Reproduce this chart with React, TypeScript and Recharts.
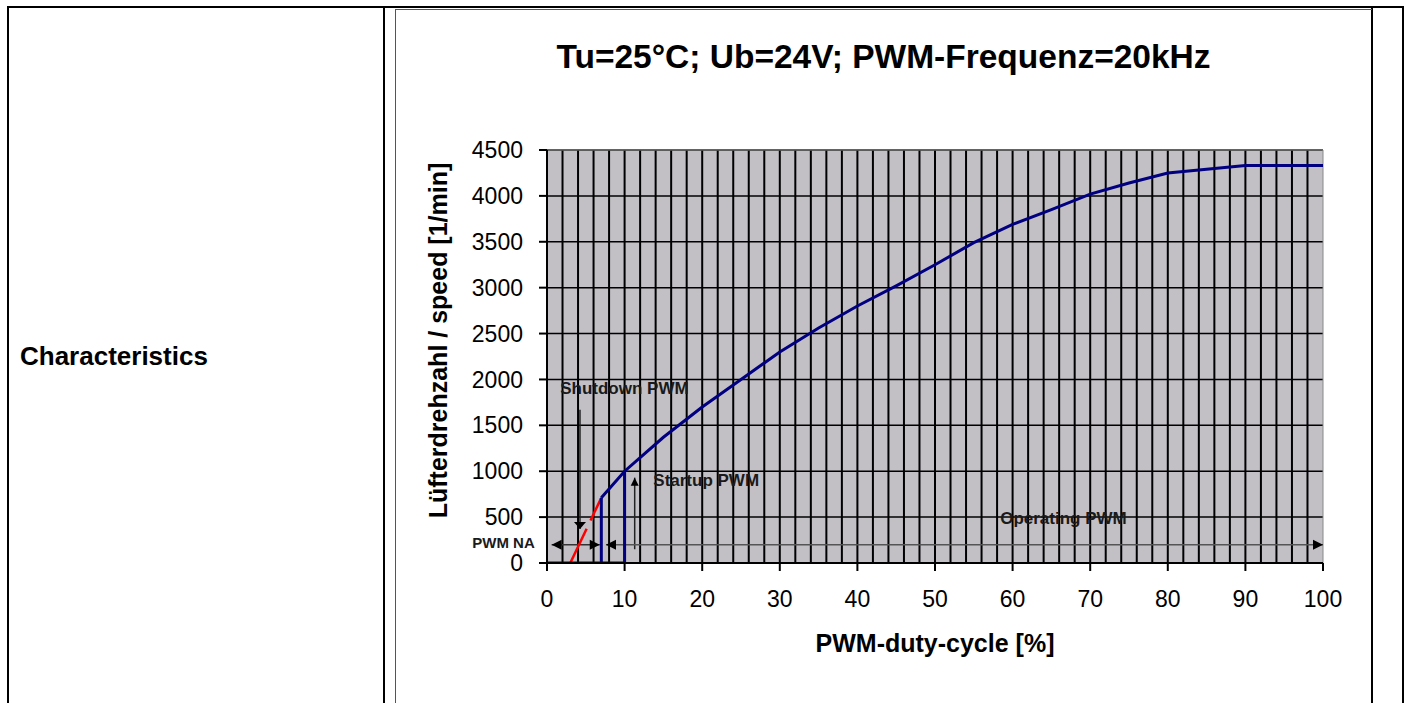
import {
  CartesianGrid,
  Label,
  Line,
  LineChart,
  ReferenceDot,
  ReferenceLine,
  XAxis,
  YAxis,
} from 'recharts';

const FONT = "'Liberation Sans', Arial, sans-serif";

// axis ticks
const xTicks = [0, 10, 20, 30, 40, 50, 60, 70, 80, 90, 100];
const yTicks = [0, 500, 1000, 1500, 2000, 2500, 3000, 3500, 4000, 4500];
const gridX = [
  2, 4, 6, 8, 10, 12, 14, 16, 18, 20, 22, 24, 26, 28, 30, 32, 34, 36, 38, 40, 42, 44, 46, 48, 50,
  52, 54, 56, 58, 60, 62, 64, 66, 68, 70, 72, 74, 76, 78, 80, 82, 84, 86, 88, 90, 92, 94, 96, 98,
];

// speed curve
const curvePwm = [7, 10, 15, 20, 25, 30, 35, 40, 45, 50, 55, 60, 65, 70, 75, 80, 85, 90, 95, 100];
const curveRpm = [710, 1000, 1370, 1700, 2000, 2300, 2560, 2800, 3020, 3250, 3490, 3690, 3850, 4020, 4140, 4250, 4290, 4330, 4330, 4330];

// startup step (blue) and shutdown ramp (red)
const stepPwm = [0, 10, 10];
const stepRpm = [0, 0, 1000];
const shutdownPwm = [7, 7];
const shutdownRpm = [0, 710];
const rampPwm = [3, 7];
const rampRpm = [0, 710];

const toRows = (xs: number[], ys: number[]) => xs.map((pwm, i) => ({ pwm, rpm: ys[i] }));

const curve = toRows(curvePwm, curveRpm);
const step = toRows(stepPwm, stepRpm);
const shutdownEdge = toRows(shutdownPwm, shutdownRpm);
const ramp = toRows(rampPwm, rampRpm);

const arrow =
  (head: 'start' | 'end' | 'both', color: string, len = 9, half = 5) =>
  (p: any) => {
    const { x1, y1, x2, y2 } = p;
    const ang = Math.atan2(y2 - y1, x2 - x1);
    const tri = (x: number, y: number, a: number) => {
      const bx = x - Math.cos(a) * len;
      const by = y - Math.sin(a) * len;
      const nx = -Math.sin(a) * half;
      const ny = Math.cos(a) * half;
      return `${x},${y} ${bx + nx},${by + ny} ${bx - nx},${by - ny}`;
    };
    return (
      <g>
        <line x1={x1} y1={y1} x2={x2} y2={y2} stroke={color} strokeWidth={1.5} />
        {head !== 'start' && <polygon points={tri(x2, y2, ang)} fill="#000" />}
        {head !== 'end' && <polygon points={tri(x1, y1, ang + Math.PI)} fill="#000" />}
      </g>
    );
  };

const note =
  (text: string, anchor: 'start' | 'middle' = 'start', size = 17) =>
  (p: any) => (
    <text
      x={p.cx}
      y={p.cy}
      textAnchor={anchor}
      dominantBaseline="central"
      fontSize={size}
      fontWeight={700}
      fontFamily={FONT}
      fill="#1a1a1a"
    >
      {text}
    </text>
  );

export default function App() {
  return (
    <div style={{ position: 'absolute', left: 0, top: 0, width: 1407, height: 703, background: '#fff', fontFamily: FONT, overflow: 'hidden' }}>
      {/* table borders */}
      <div style={{ position: 'absolute', left: 7, top: 6, width: 1393, height: 710, borderLeft: '2px solid #000', borderTop: '2px solid #000', borderRight: '2px solid #000' }} />
      <div style={{ position: 'absolute', left: 383, top: 6, width: 2, height: 697, background: '#000' }} />
      <div style={{ position: 'absolute', left: 1371, top: 6, width: 2, height: 697, background: '#000' }} />
      <div style={{ position: 'absolute', left: 395, top: 9, width: 976, height: 694, borderLeft: '1px solid #555', borderTop: '1px solid #555' }} />

      <div style={{ position: 'absolute', left: 20, top: 356, transform: 'translateY(-50%)', fontSize: 26, fontWeight: 700, color: '#000' }}>
        Characteristics
      </div>

      <div style={{ position: 'absolute', left: 396, width: 975, top: 57, transform: 'translateY(-50%)', textAlign: 'center', fontSize: 33.5, fontWeight: 700, color: '#000' }}>
        Tu=25°C; Ub=24V; PWM-Frequenz=20kHz
      </div>

      <div style={{ position: 'absolute', left: 396, top: 10 }}>
        <LineChart width={975} height={693} margin={{ top: 140, right: 48, bottom: 0, left: 0 }} style={{ fontFamily: FONT }}>
          <CartesianGrid vertical={false} stroke="#000" strokeWidth={1.5} fill="#c2bfc5" fillOpacity={1} />
          <XAxis
            dataKey="pwm"
            type="number"
            domain={[0, 100]}
            ticks={xTicks}
            allowDataOverflow
            height={140}
            tickSize={8}
            tickMargin={20}
            axisLine={{ stroke: '#000', strokeWidth: 2 }}
            tickLine={{ stroke: '#000', strokeWidth: 2 }}
            tick={{ fill: '#000', fontSize: 23, fontFamily: FONT }}
          >
            <Label
              content={(p: any) => {
                const vb = p.viewBox;
                const cx = vb.x + vb.width / 2;
                const cy = vb.y + 80;
                return (
                  <text x={cx} y={cy} textAnchor="middle" dominantBaseline="central" fontSize={25} fontWeight={700} fontFamily={FONT} fill="#000">
                    PWM-duty-cycle [%]
                  </text>
                );
              }}
            />
          </XAxis>
          <YAxis
            type="number"
            domain={[0, 4500]}
            ticks={yTicks}
            allowDataOverflow
            width={151}
            tickSize={8}
            tickMargin={16}
            axisLine={{ stroke: '#000', strokeWidth: 2 }}
            tickLine={{ stroke: '#000', strokeWidth: 2 }}
            tick={{ fill: '#000', fontSize: 23, fontFamily: FONT }}
          >
            <Label
              content={(p: any) => {
                const vb = p.viewBox;
                const cx = vb.x + 42;
                const cy = vb.y + vb.height / 2 - 16;
                return (
                  <text
                    x={cx}
                    y={cy}
                    transform={`rotate(-90 ${cx} ${cy})`}
                    textAnchor="middle"
                    dominantBaseline="central"
                    fontSize={25}
                    fontWeight={700}
                    fontFamily={FONT}
                    fill="#000"
                  >
                    Lüfterdrehzahl / speed [1/min]
                  </text>
                );
              }}
            />
          </YAxis>

          {/* vertical grid every 2 % */}
          {gridX.map((v) => (
            <ReferenceLine key={`g${v}`} x={v} stroke="#000" strokeWidth={2} />
          ))}
          <ReferenceLine y={4500} stroke="#888" strokeWidth={1} />
          <ReferenceLine x={100} stroke="#888" strokeWidth={1} />

          {/* annotation arrows */}
          <ReferenceLine segment={[{ x: 4.25, y: 1670 }, { x: 4.25, y: 370 }]} shape={arrow('end', '#222', 7, 6)} />
          <ReferenceLine segment={[{ x: 11.3, y: 150 }, { x: 11.3, y: 930 }]} shape={arrow('end', '#222', 8, 4)} />
          <ReferenceLine segment={[{ x: 0.6, y: 200 }, { x: 6.8, y: 200 }]} shape={arrow('both', '#333', 10, 5)} />
          <ReferenceLine segment={[{ x: 7.6, y: 200 }, { x: 100, y: 200 }]} shape={arrow('both', '#555', 10, 5)} />

          <Line data={ramp} dataKey="rpm" stroke="#ff0000" strokeWidth={2.5} strokeDasharray="38 9" dot={false} isAnimationActive={false} />
          <Line data={step} dataKey="rpm" stroke="#000080" strokeWidth={3} dot={false} isAnimationActive={false} />
          <Line data={shutdownEdge} dataKey="rpm" stroke="#000080" strokeWidth={3} dot={false} isAnimationActive={false} />
          <Line data={curve} dataKey="rpm" stroke="#000080" strokeWidth={3} dot={false} isAnimationActive={false} />

          {/* annotation texts */}
          <ReferenceDot x={1.7} y={1900} r={0} ifOverflow="visible" shape={note('Shutdown PWM')} />
          <ReferenceDot x={13.7} y={900} r={0} ifOverflow="visible" shape={note('Startup PWM')} />
          <ReferenceDot x={-5.6} y={225} r={0} ifOverflow="visible" shape={note('PWM NA', 'middle', 15)} />
          <ReferenceDot x={58.4} y={480} r={0} ifOverflow="visible" shape={note('Operating PWM')} />
        </LineChart>
      </div>
    </div>
  );
}
